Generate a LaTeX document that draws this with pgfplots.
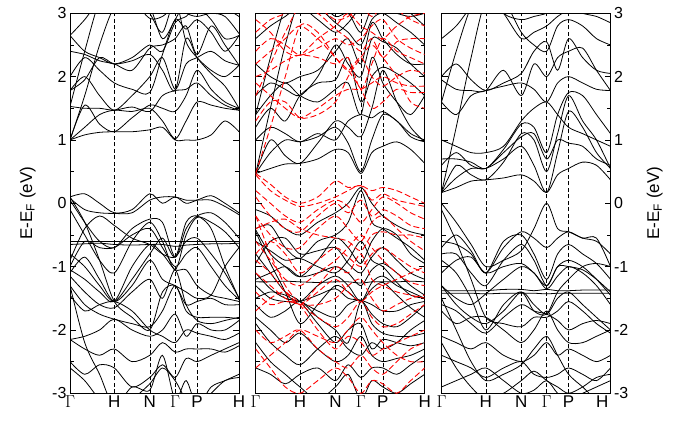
\documentclass[border=0pt]{standalone}
\usepackage{pgfplots}
\usepackage{pgfplotstable}
\pgfplotsset{compat=1.18}
\usepackage{fontspec}
\setmainfont{Liberation Sans}
\newcommand{\G}{$\Gamma$}

% grid of k-points (first data row), then one band per row
\pgfplotstableread{
c0 c1 c2 c3 c4 c5 c6 c7 c8 c9 c10 c11 c12
0 0.087 0.175 0.262 0.367 0.472 0.547 0.622 0.687 0.752 0.835 0.917 1
1.00 1.08 1.12 1.13 1.13 1.16 1.20 1.00 1.00 1.00 1.08 1.30 1.13
1.00 1.20 1.40 1.47 1.45 1.50 1.30 1.02 1.30 1.60 1.55 1.50 1.47
1.00 1.55 1.25 1.13 1.35 1.55 1.50 1.45 1.70 2.10 1.80 1.60 1.50
1.53 1.50 1.50 1.47 1.52 1.45 1.70 1.78 1.80 1.90 1.70 1.55 1.47
1.78 2.00 1.70 1.47 1.70 2.00 2.30 1.80 2.20 2.30 2.40 2.25 2.18
1.78 1.95 2.30 2.20 2.25 2.35 2.10 1.78 2.60 2.30 2.05 1.85 1.50
2.40 2.35 2.25 2.20 2.10 2.45 2.50 2.60 2.80 2.35 2.80 2.50 2.18
2.65 2.40 2.30 2.20 2.30 2.50 2.40 2.85 2.95 3.10 2.90 2.60 2.65
2.65 2.90 3.20 3.30 3.20 2.92 2.95 3.10 3.00 2.95 3.00 2.95 2.68
1.00 1.70 2.50 3.10 3.30 3.10 2.60 2.90 3.20 3.30 3.30 3.10 2.95
1.53 2.40 3.20 3.50 3.40 3.00 2.70 3.20 2.55 2.30 2.10 2.00 2.18
2.00 2.30 2.10 1.90 1.80 1.75 2.35 2.90 2.75 2.90 2.70 2.40 2.65
0.10 0.15 0.00 -0.15 -0.10 0.15 0.00 0.10 0.00 0.05 0.12 0.00 -0.15
0.08 -0.10 -0.15 -0.16 -0.15 0.05 0.10 0.10 0.05 0.05 0.05 -0.05 -0.18
0.05 -0.30 -0.60 -0.70 -0.40 -0.25 -0.30 -0.85 -0.40 -0.20 -0.15 -0.30 -0.55
-0.10 -0.50 -0.90 -1.10 -0.60 -0.30 -0.60 -1.05 -0.50 -0.22 -0.30 -0.45 -0.70
-0.60 -0.60 -0.60 -0.60 -0.60 -0.60 -0.60 -0.60 -0.60 -0.60 -0.60 -0.60 -0.60
-0.65 -0.64 -0.63 -0.65 -0.66 -0.65 -0.65 -0.68 -0.66 -0.65 -0.64 -0.64 -0.63
-0.90 -0.40 -0.20 -0.35 -0.55 -0.65 -0.80 -0.85 -0.60 -0.55 -0.80 -1.10 -1.50
-1.00 -0.60 -0.70 -0.70 -0.50 -0.40 -0.70 -1.00 -0.80 -0.70 -1.00 -1.30 -1.52
-1.05 -1.20 -1.40 -1.55 -1.00 -0.65 -0.80 -1.05 -1.05 -1.30 -1.45 -1.50 -1.55
-1.10 -0.85 -1.20 -1.55 -1.30 -0.90 -1.20 -1.30 -1.40 -1.50 -1.45 -1.00 -0.70
-1.15 -1.40 -1.60 -1.65 -1.40 -1.20 -1.50 -1.05 -1.60 -1.85 -1.90 -1.85 -1.80
-1.30 -1.60 -1.75 -1.83 -1.90 -1.95 -1.70 -1.30 -1.70 -1.80 -1.80 -1.80 -1.82
-1.45 -1.70 -1.60 -1.55 -1.70 -2.00 -2.10 -2.20 -2.00 -2.05 -2.10 -2.15 -2.05
-2.15 -2.10 -2.00 -1.83 -2.00 -2.10 -2.00 -1.75 -2.10 -1.90 -2.00 -2.00 -1.85
-2.15 -2.30 -2.40 -2.30 -2.50 -2.40 -2.20 -2.35 -2.30 -2.30 -2.30 -2.35 -2.25
-2.50 -2.70 -2.55 -2.60 -2.90 -2.75 -2.55 -2.75 -2.45 -2.50 -2.40 -2.30 -2.20
-1.30 -2.20 -2.70 -3.20 -2.90 -2.95 -2.40 -3.10 -2.80 -3.20 -2.90 -2.80 -2.70
0.10 -0.30 -0.90 -1.55 -1.80 -2.00 -1.40 -1.30 -1.60 -1.55 -1.50 -1.60 -1.60
-0.80 -1.00 -1.30 -1.55 -1.20 -0.80 -0.55 -0.85 -0.30 -0.20 -0.40 -1.00 -1.50
-2.60 -2.80 -3.10 -3.30 -3.10 -2.85 -2.60 -2.80 -3.10 -3.20 -3.00 -2.80 -2.75
}\rawA
\pgfplotstabletranspose\tabA{\rawA}

\pgfplotstableread{
c0 c1 c2 c3 c4 c5 c6 c7 c8 c9 c10 c11 c12
0 0.087 0.175 0.262 0.367 0.472 0.547 0.622 0.687 0.752 0.835 0.917 1
0.47 0.55 0.62 0.63 0.70 0.85 0.80 0.47 0.80 0.90 0.97 0.85 0.63
0.47 0.80 1.00 0.97 1.05 1.20 0.95 0.50 1.00 1.40 1.30 1.05 0.97
0.47 1.00 0.75 0.63 0.95 1.30 1.20 1.05 1.50 2.10 1.60 1.20 0.97
1.00 1.20 1.10 0.97 1.10 1.00 1.30 1.40 1.35 1.45 1.30 1.10 1.00
1.20 1.50 1.30 1.70 1.90 1.95 2.30 1.60 2.00 2.15 2.05 1.90 1.70
1.40 1.70 1.90 1.70 1.60 1.80 1.90 1.40 2.30 1.90 1.60 1.40 1.70
1.70 1.90 1.80 1.70 2.00 2.50 2.20 2.00 2.60 2.55 2.45 2.20 2.00
2.20 2.00 1.90 2.00 2.10 2.40 2.60 2.20 2.85 2.60 2.35 2.20 2.20
0.47 1.50 2.50 3.20 3.10 2.85 2.70 2.50 2.90 3.00 2.85 2.70 2.50
1.40 2.30 3.10 3.40 3.20 2.95 3.00 2.70 3.10 3.30 3.20 3.00 2.80
2.60 2.80 2.95 3.10 2.90 2.70 2.85 3.10 3.20 3.10 3.00 2.95 3.00
-0.10 -0.20 -0.40 -0.50 -0.30 -0.15 0.00 0.25 0.00 -0.20 -0.35 -0.45 -0.50
-0.40 -0.35 -0.70 -0.87 -0.60 -0.50 -0.30 0.20 -0.30 -0.40 -0.55 -0.70 -0.90
-0.42 -0.80 -1.00 -1.16 -0.90 -0.55 -0.70 -0.95 -0.60 -0.40 -0.50 -0.80 -0.95
-0.95 -0.60 -0.55 -0.80 -0.75 -0.70 -0.95 -1.10 -0.85 -0.70 -0.90 -1.10 -1.20
-1.24 -1.24 -1.23 -1.24 -1.25 -1.24 -1.24 -1.26 -1.24 -1.24 -1.24 -1.23 -1.24
-1.20 -1.10 -1.00 -1.16 -1.10 -1.00 -1.10 -1.30 -1.05 -0.95 -1.10 -1.30 -1.45
-1.50 -1.40 -1.45 -1.55 -1.30 -1.15 -1.30 -1.55 -1.25 -1.15 -1.30 -1.40 -1.50
-1.30 -1.50 -1.55 -1.55 -1.45 -1.35 -1.50 -1.53 -1.60 -1.70 -1.70 -1.60 -1.55
-1.10 -1.35 -1.50 -1.55 -1.70 -1.80 -1.60 -1.53 -1.75 -1.90 -1.95 -1.80 -1.60
-1.60 -1.80 -1.70 -1.55 -1.80 -2.00 -2.20 -1.55 -1.90 -2.05 -2.10 -2.10 -2.05
-0.80 -1.10 -1.40 -1.55 -1.90 -2.20 -2.00 -1.90 -2.30 -2.15 -2.20 -2.25 -2.20
-1.80 -2.00 -2.20 -2.05 -2.30 -2.50 -2.40 -2.10 -2.40 -2.50 -2.45 -2.40 -2.30
-2.60 -2.70 -2.85 -2.70 -2.60 -2.80 -2.55 -2.75 -2.60 -2.60 -2.70 -2.55 -2.40
-2.20 -2.50 -2.70 -2.90 -3.10 -2.90 -2.70 -3.10 -2.80 -2.90 -3.00 -2.85 -2.70
-0.45 -0.95 -1.40 -1.90 -1.60 -1.30 -1.40 -1.55 -1.35 -1.25 -1.45 -1.65 -1.80
-1.90 -2.20 -2.40 -2.55 -2.30 -2.10 -2.30 -2.40 -2.20 -2.30 -2.20 -2.00 -1.85
-0.60 -0.75 -0.90 -0.87 -1.00 -1.10 -0.90 -0.60 -0.90 -1.00 -1.25 -1.45 -1.50
}\rawB
\pgfplotstabletranspose\tabB{\rawB}

\pgfplotstableread{
c0 c1 c2 c3 c4 c5 c6 c7 c8 c9 c10 c11 c12
0 0.087 0.175 0.262 0.367 0.472 0.547 0.622 0.687 0.752 0.835 0.917 1
0.47 0.30 0.10 0.00 0.10 0.35 0.25 0.28 0.20 0.25 0.20 0.10 0.00
0.45 0.20 0.05 -0.05 0.00 0.10 0.20 0.28 0.05 0.15 0.05 0.00 -0.05
0.10 -0.20 -0.40 -0.45 -0.20 0.00 -0.15 0.05 -0.20 -0.10 -0.20 -0.35 -0.40
-0.20 -0.50 -0.70 -0.70 -0.40 -0.20 -0.40 -0.60 -0.30 -0.20 -0.40 -0.60 -0.75
-0.40 -0.30 -0.25 -0.40 -0.50 -0.55 -0.60 -0.75 -0.50 -0.45 -0.50 -0.50 -0.55
-0.80 -0.60 -0.80 -1.10 -0.90 -0.70 -0.85 -1.00 -0.80 -0.70 -0.85 -1.00 -1.10
-0.90 -1.10 -1.40 -1.60 -1.30 -1.00 -1.10 -0.80 -1.20 -1.30 -1.40 -1.45 -1.50
-1.10 -1.30 -1.50 -1.60 -1.60 -1.50 -1.30 -1.20 -1.50 -1.70 -1.60 -1.50 -1.45
-1.40 -1.60 -1.55 -1.60 -1.80 -1.95 -1.80 -1.55 -1.80 -1.95 -1.90 -1.75 -1.60
-0.20 -0.80 -1.30 -1.60 -2.00 -2.30 -2.10 -2.20 -2.40 -2.30 -2.20 -2.10 -2.00
-2.00 -2.20 -2.10 -2.00 -2.30 -2.50 -2.60 -2.40 -2.60 -2.70 -2.50 -2.30 -2.20
-2.30 -2.60 -2.90 -3.00 -2.80 -2.60 -2.75 -3.00 -2.80 -2.85 -3.00 -2.80 -2.60
1.90 1.70 1.50 1.35 1.50 1.70 1.80 1.80 1.90 2.00 1.90 1.85 1.85
2.00 2.10 2.25 2.34 2.30 2.20 2.30 1.80 2.20 2.60 2.40 2.30 2.20
1.30 1.60 1.60 1.35 1.40 1.60 2.00 2.30 2.50 2.30 2.00 1.60 1.50
2.40 2.60 2.50 2.34 2.45 2.60 2.50 2.60 2.80 2.90 2.60 2.45 2.35
1.70 2.20 2.70 3.10 3.00 2.75 2.60 2.40 2.60 2.30 2.55 2.60 2.60
2.70 2.90 3.00 3.20 3.10 2.90 2.95 3.10 2.95 3.10 3.05 2.90 2.80
0.47 1.20 2.00 2.80 2.70 2.30 2.10 1.80 1.50 1.60 1.80 1.75 1.75
-0.60 -0.90 -1.20 -1.30 -1.10 -0.90 -0.70 -0.50 -0.70 -0.90 -1.10 -1.25 -1.30
-1.70 -1.50 -1.40 -1.60 -1.40 -1.20 -1.40 -1.55 -1.40 -1.30 -1.20 -1.10 -1.00
-2.60 -2.40 -2.20 -2.00 -2.10 -2.20 -2.00 -1.80 -2.00 -2.20 -2.40 -2.50 -2.50
0.20 0.00 -0.20 -0.30 -0.10 0.05 -0.05 -0.30 -0.10 0.10 0.00 -0.15 -0.25
2.20 2.40 2.60 2.80 2.60 2.30 2.10 2.30 2.00 1.85 2.00 2.10 2.05
2.90 2.70 2.40 2.34 2.60 2.80 3.00 2.80 2.70 2.60 2.80 2.95 3.00
}\rawR
\pgfplotstabletranspose\tabR{\rawR}

\pgfplotstableread{
c0 c1 c2 c3 c4 c5 c6 c7 c8 c9 c10 c11 c12
0 0.087 0.175 0.262 0.367 0.472 0.547 0.622 0.687 0.752 0.835 0.917 1
0.17 0.25 0.35 0.37 0.40 0.45 0.35 0.17 0.45 0.55 0.65 0.60 0.37
0.17 0.40 0.55 0.55 0.70 0.90 0.60 0.17 0.80 1.45 1.20 0.80 0.55
0.17 0.60 0.45 0.37 0.65 1.10 1.00 0.50 1.10 1.70 1.30 1.00 0.55
0.60 0.80 0.60 0.55 0.80 1.05 1.10 0.70 1.00 0.95 0.90 0.70 0.60
0.70 0.70 0.65 0.55 0.85 1.25 1.20 0.80 1.40 1.75 1.70 1.40 1.10
1.60 1.40 1.70 1.78 1.85 1.90 1.80 1.60 1.90 2.00 1.90 1.80 1.78
1.95 1.80 1.78 1.78 2.10 1.70 2.20 2.00 2.30 2.40 2.45 2.10 1.78
2.00 2.20 1.95 1.78 1.90 2.05 2.40 2.55 2.10 2.60 2.30 2.10 2.05
0.17 1.20 2.30 3.20 3.20 2.70 2.50 2.40 2.80 2.90 2.80 2.60 2.50
1.60 2.40 3.10 3.40 3.00 2.90 2.95 3.00 3.10 3.10 3.00 2.95 2.85
2.60 2.80 3.10 3.30 3.00 2.60 2.70 2.80 2.95 3.05 3.10 3.20 3.30
1.00 0.90 0.80 0.80 0.90 1.30 1.50 1.60 1.40 1.20 1.10 1.00 0.90
0.00 -0.30 -0.65 -1.00 -0.90 -0.75 -0.40 0.00 -0.40 -0.45 -0.55 -0.60 -0.80
-0.60 -0.65 -0.80 -1.10 -0.70 -0.45 -0.55 -0.70 -0.55 -0.45 -0.55 -0.55 -1.00
-0.70 -0.50 -0.75 -1.10 -0.60 -0.50 -0.80 -1.20 -0.80 -0.65 -0.80 -0.95 -1.20
-0.80 -0.80 -1.10 -1.30 -0.90 -0.65 -0.90 -1.30 -1.00 -1.00 -1.05 -1.20 -1.40
-1.42 -1.42 -1.42 -1.43 -1.42 -1.42 -1.42 -1.43 -1.42 -1.42 -1.42 -1.42 -1.42
-1.38 -1.38 -1.38 -1.38 -1.36 -1.36 -1.38 -1.36 -1.38 -1.38 -1.37 -1.37 -1.37
-1.30 -1.50 -1.60 -1.43 -1.20 -1.00 -1.10 -1.35 -1.15 -1.00 -1.10 -1.30 -1.60
-1.30 -1.60 -1.80 -1.90 -1.70 -1.40 -1.60 -1.75 -1.50 -1.40 -1.60 -1.80 -2.00
-1.60 -1.70 -1.90 -2.05 -1.80 -1.60 -1.70 -1.75 -1.85 -2.00 -1.90 -1.85 -1.90
-1.70 -1.90 -1.80 -1.80 -2.00 -2.20 -2.00 -1.70 -2.00 -2.20 -2.20 -2.10 -2.00
-0.10 -0.60 -1.20 -1.80 -1.90 -1.95 -1.80 -1.80 -1.70 -1.55 -1.70 -1.90 -2.05
-2.10 -2.20 -2.30 -2.20 -2.40 -2.50 -2.40 -2.20 -2.40 -2.30 -2.40 -2.50 -2.40
-2.40 -2.50 -2.60 -2.75 -2.60 -2.50 -2.70 -2.75 -2.70 -2.60 -2.70 -2.80 -2.60
-2.20 -2.60 -2.90 -3.10 -3.00 -2.80 -2.65 -2.80 -2.90 -3.00 -2.90 -2.75 -2.70
-1.50 -2.00 -2.50 -2.80 -2.70 -2.55 -2.30 -2.10 -2.40 -2.70 -2.90 -3.10 -3.20
-0.90 -1.10 -1.50 -2.00 -1.60 -1.40 -1.70 -1.75 -1.40 -1.20 -1.00 -0.95 -1.00
-1.10 -0.90 -0.85 -1.10 -1.00 -0.95 -1.10 -1.30 -1.00 -0.90 -1.00 -1.20 -1.45
-2.90 -2.80 -2.70 -2.60 -2.80 -3.00 -2.95 -2.80 -3.00 -3.10 -3.00 -2.90 -2.80
}\rawC
\pgfplotstabletranspose\tabC{\rawC}

\pgfplotsset{
  bandaxis/.style={
    scale only axis, width=169pt, height=380pt,
    xmin=0, xmax=1, ymin=-3, ymax=3,
    xtick={0,0.262,0.472,0.622,0.752,1},
    xticklabels={\G,H,N,\G,P,H},
    xmajorgrids,
    x grid style={black, line width=0.5pt, dash pattern=on 4pt off 2.5pt},
    xtick style={draw=none},
    ytick={-3,-2,-1,0,1,2,3},
    minor ytick={-2.5,-1.5,-0.5,0.5,1.5,2.5},
    tick align=inside,
    major tick length=6pt, minor tick length=4pt,
    ytick style={black, line width=0.6pt},
    minor tick style={black, line width=0.6pt},
    yticklabel style={font=\fontsize{16}{16}\selectfont},
    xticklabel style={font=\fontsize{17}{17}\selectfont, yshift=1pt},
    /pgf/number format/assume math mode=true,
    axis line style={line width=1pt},
    label style={font=\fontsize{17}{17}\selectfont},
  },
  bk/.style={black, line width=0.8pt, smooth},
  rd/.style={red, line width=0.9pt, smooth, dash pattern=on 6pt off 3pt},
}

\begin{document}
\begin{tikzpicture}
\useasboundingbox (0,0) rectangle (682pt,422pt);
\begin{axis}[bandaxis, at={(70pt,28.7pt)}, anchor=south west,
  ylabel={E-E\textsubscript{F} (eV)},
  ylabel style={at={(axis description cs:-0.25,0.5)}, anchor=center, rotate=0}]
\pgfplotsinvokeforeach{2,...,33}{\addplot[bk] table[x index=1, y index=#1]{\tabA};}
\end{axis}
\begin{axis}[bandaxis, at={(255.7pt,28.7pt)}, anchor=south west, yticklabels={}]
\pgfplotsinvokeforeach{2,...,29}{\addplot[bk] table[x index=1, y index=#1]{\tabB};}
\pgfplotsinvokeforeach{2,...,26}{\addplot[rd] table[x index=1, y index=#1]{\tabR};}
\end{axis}
\begin{axis}[bandaxis, at={(441.5pt,28.7pt)}, anchor=south west,
  xticklabels={\G,H,N,\G,P,\makebox[0pt][r]{H\hspace{2pt}}},
  yticklabel pos=right,
  ylabel={E-E\textsubscript{F} (eV)},
  ylabel style={at={(axis description cs:1.262,0.5)}, anchor=center, rotate=0}]
\pgfplotsinvokeforeach{2,...,31}{\addplot[bk] table[x index=1, y index=#1]{\tabC};}
\end{axis}
\end{tikzpicture}
\end{document}
